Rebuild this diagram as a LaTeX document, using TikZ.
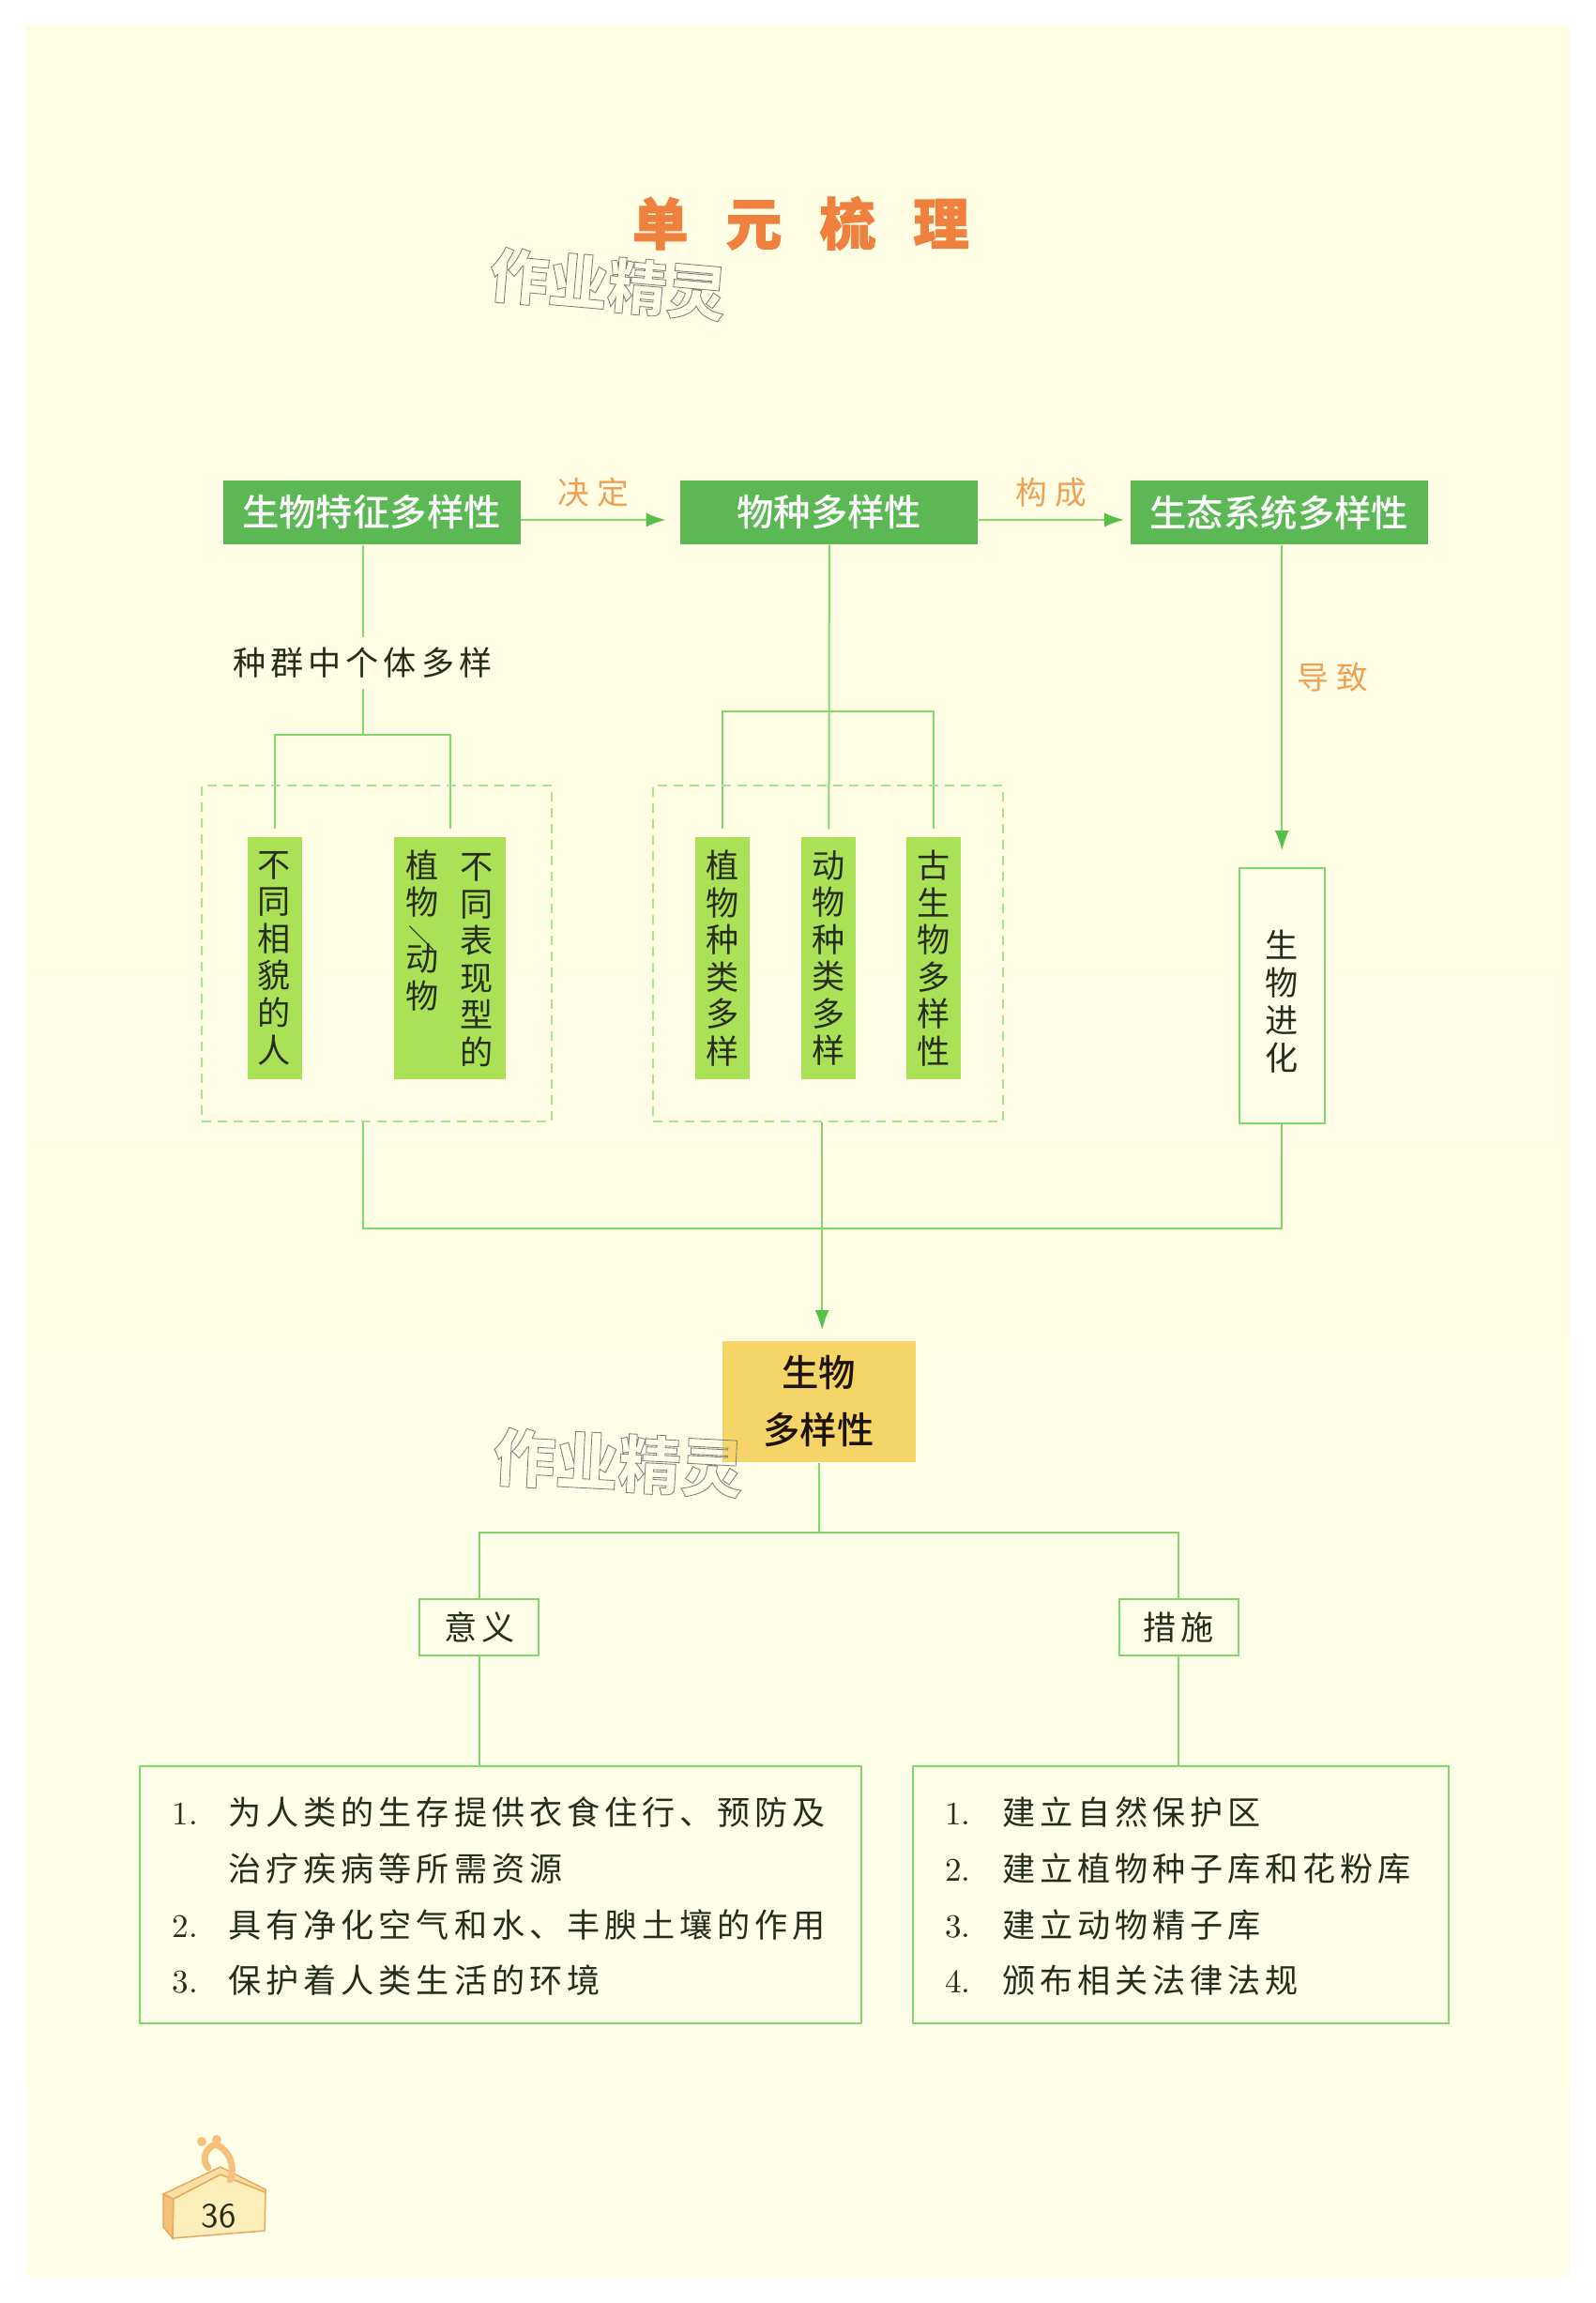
\documentclass[tikz,border=0pt]{standalone}
\usepackage{fontspec}
\usepackage{xcolor}
\usetikzlibrary{arrows.meta,positioning,fit,calc}
\newfontfamily\cjk{Noto Sans CJK SC}
\newfontfamily\cjkmed{Noto Sans CJK SC Medium}
\newfontfamily\cjkwide[LetterSpace=14]{Noto Sans CJK SC}
\newfontfamily\cjkair[LetterSpace=25]{Noto Sans CJK SC}
\newfontfamily\cjktitle[LetterSpace=67,FakeBold=1.5]{Noto Sans CJK SC Black}
\definecolor{paper}{RGB}{255,254,232}
\definecolor{papertop}{RGB}{255,253,226}
\definecolor{deepgreen}{RGB}{92,184,84}
\definecolor{leafgreen}{RGB}{170,225,86}
\definecolor{linegreen}{RGB}{126,217,109}
\definecolor{tipgreen}{RGB}{87,191,73}
\definecolor{softgreen}{RGB}{165,229,143}
\definecolor{softorange}{RGB}{238,160,84}
\definecolor{titleorange}{RGB}{240,128,62}
\definecolor{coreyellow}{RGB}{245,213,103}
\definecolor{inkdark}{RGB}{38,46,26}
\definecolor{tagface}{RGB}{251,238,184}
\definecolor{tagside}{RGB}{247,192,122}
\definecolor{tagedge}{RGB}{232,168,96}
\newcommand{\hollowtext}[1]{\special{pdf:code q 1 Tr 0.25 w 0.5 G}#1\special{pdf:code Q}}
\begin{document}
\begin{tikzpicture}[
 node distance=5mm and 5mm,
 every node/.style={align=center,text=inkdark},
 topbox/.style={fill=deepgreen,minimum width=31.7mm,minimum height=6.8mm,inner sep=0pt,text=white,font=\cjkmed\fontsize{11.2}{13}\selectfont},
 vtext/.style={inner sep=0pt,font=\cjk\fontsize{10}{11.25}\selectfont},
 leaf/.style={vtext,fill=leafgreen,minimum width=5.8mm,minimum height=25.8mm},
 group/.style={draw=softgreen,line width=0.2mm,dash pattern=on 1mm off 0.7mm,inner ysep=4.9mm},
 plainbox/.style={draw=linegreen,line width=0.2mm,fill=paper,font=\cjkwide\fontsize{10}{12}\selectfont,inner sep=0pt},
 listbox/.style={plainbox,minimum height=27.4mm,inner xsep=3.45mm,align=left,font=\cjkwide\fontsize{10}{17}\selectfont},
 orange/.style={text=softorange,inner sep=0pt,font=\cjkair\fontsize{9.6}{11}\selectfont},
 link/.style={linegreen,line width=0.2mm},
 flow/.style={link,-{Latex[length=2.1mm,width=1.5mm,color=tipgreen]}},
 hollow/.style={inner sep=0pt,font=\cjk\bfseries\fontsize{18}{20}\selectfont}
]
\useasboundingbox (0,0) rectangle (17.01,24.54);
\fill[white] (0,0) rectangle (17.01,24.54);
\shade[top color=papertop,bottom color=paper] (0.28,0.29) rectangle (16.73,24.26);
% title and marks
\node[inner sep=0pt,font=\cjktitle\fontsize{17}{19}\selectfont,text=titleorange] (title) at (8.535,22.16) {单元梳理};
\node[hollow,rotate=-5] (markt) at (6.48,21.51) {\hollowtext{作业精灵}};
% top row
\node[topbox] (bio) at (3.96,19.08) {生物特征多样性};
\node[topbox,right=16.95mm of bio] (species) {物种多样性};
\node[topbox,right=16.1mm of species] (eco) {生态系统多样性};
\draw[flow,shorten >=1.5mm] ([yshift=-0.8mm]bio.east) -- node[orange,above=1.3mm,xshift=-0.8mm]{决定} ([yshift=-0.8mm]species.west);
\draw[flow,shorten >=0.6mm] ([yshift=-0.8mm]species.east) -- node[orange,above=1.3mm,xshift=-0.3mm]{构成} ([yshift=-0.8mm]eco.west);
% left branch
\node[below=9.85mm of bio,xshift=-0.95mm,inner sep=0pt,minimum height=5.3mm,font=\cjkwide\fontsize{10}{12}\selectfont] (popu) {种群中个体多样};
\draw[link] (popu |- bio.south) -- (popu);
\coordinate[below=4.95mm of popu] (forka);
\draw[link] (popu) -- (forka);
\node[leaf] (leafa) at (2.925,14.33) {不\\同\\相\\貌\\的\\人};
\node[leaf,minimum width=11.9mm,right=9.75mm of leafa] (leafb) {};
\node[vtext] (typea) at ([xshift=2.85mm,yshift=-0.2mm]leafb.center) {不\\同\\表\\现\\型\\的};
\node[vtext,anchor=north] (typeb) at ([xshift=-3mm,yshift=-1.35mm]leafb.north) {植\\物\\[-1pt]{\fontsize{8}{8}\selectfont ＼}\\[-4.4pt]动\\物};
\draw[link,shorten >=0.8mm] (forka) -| (leafa.north);
\draw[link,shorten >=0.8mm] (forka) -| (leafb.north);
\node[group,fit=(leafa)(leafb),inner xsep=4.8mm,yshift=0.5mm] (groupa) {};
% middle branch
\node[leaf] (leafc) at (7.70,14.33) {植\\物\\种\\类\\多\\样};
\node[leaf,right=5.4mm of leafc] (leafd) {动\\物\\种\\类\\多\\样};
\node[leaf,right=5.25mm of leafd] (leafe) {古\\生\\物\\多\\样\\性};
\coordinate[below=17.75mm of species] (forkb);
\draw[link,shorten >=0.8mm] (species) -- (leafd.north);
\draw[link,shorten >=0.8mm] (forkb) -| (leafc.north);
\draw[link,shorten >=0.8mm] (forkb) -| (leafe.north);
\node[group,fit=(leafc)(leafe),inner xsep=4.42mm,xshift=-0.05mm,yshift=0.5mm] (groupb) {};
% right branch
\node[plainbox,minimum width=9.1mm,minimum height=27.2mm,below=34.35mm of eco,xshift=0.3mm] (evo) {};
\node[vtext,font=\cjk\fontsize{10}{11.4}\selectfont] (evotext) at ([yshift=-0.6mm]evo.center) {生\\物\\进\\化};
\draw[flow,shorten >=1.8mm] (evo.north |- eco.south) -- node[orange,right=1.5mm,pos=0.41]{导致} (evo.north);
% joining line
\coordinate[below=11.3mm of groupb.south,xshift=-0.6mm] (hub);
\draw[link] (popu |- groupa.south) |- (hub);
\draw[link] (evo) |- (hub);
\node[fill=coreyellow,minimum width=20.6mm,minimum height=12.9mm,inner sep=0pt,below=11.95mm of hub,xshift=-0.35mm,text=black!85!brown,font=\cjkmed\fontsize{11.2}{17.3}\selectfont] (core) {生物\\多样性};
\draw[link] (hub |- groupb.south) -- (hub);
\draw[flow,shorten >=1.1mm] (hub) -- (hub |- core.north);
\node[hollow,rotate=-3,font=\cjk\bfseries\fontsize{19}{21}\selectfont] (markb) at (6.59,8.95) {\hollowtext{作业精灵}};
% lower half
\coordinate[below=7.4mm of core] (forkc);
\draw[link] (core) -- (forkc);
\node[plainbox,minimum width=12.7mm,minimum height=6mm,below left=7.05mm and 29.75mm of forkc] (mean) {意义};
\node[plainbox,minimum width=12.7mm,minimum height=6mm,below right=7.05mm and 31.9mm of forkc] (act) {措施};
\draw[link] (forkc) -| (mean);
\draw[link] (forkc) -| (act);
\node[listbox,minimum width=76.9mm,text width=70mm,below=11.6mm of mean,xshift=2.3mm] (meanlist) {\begin{tabular}{@{}p{6mm}@{}l@{}}
\rule{0pt}{4.8mm}{\rmfamily 1.} & 为人类的生存提供衣食住行、预防及\\
 & 治疗疾病等所需资源\\
{\rmfamily 2.} & 具有净化空气和水、丰腴土壤的作用\\
{\rmfamily 3.} & 保护着人类生活的环境
\end{tabular}};
\node[listbox,minimum width=57.1mm,text width=50.2mm,below=11.6mm of act,xshift=0.2mm] (actlist) {\begin{tabular}{@{}p{6.1mm}@{}l@{}}
\rule{0pt}{4.8mm}{\rmfamily 1.} & 建立自然保护区\\
{\rmfamily 2.} & 建立植物种子库和花粉库\\
{\rmfamily 3.} & 建立动物精子库\\
{\rmfamily 4.} & 颁布相关法律法规
\end{tabular}};
\draw[link] (mean) -- (mean |- meanlist.north);
\draw[link] (act) -- (act |- actlist.north);
% page tag
\draw[tagedge,line width=0.15mm,fill=tagside] (1.74,1.16) -- (1.85,1.11) -- (1.84,0.69) -- (1.74,0.81) -- cycle;
\draw[tagedge,line width=0.15mm,fill=tagface] (1.85,1.11) -- (2.35,1.37) -- (2.83,1.18) -- (2.82,0.77) -- (1.84,0.69) -- cycle;
\draw[tagedge,line width=0.15mm,fill=tagface!70!tagside] (1.74,1.16) -- (2.35,1.45) -- (2.83,1.21) -- (2.83,1.18) -- (2.35,1.37) -- (1.85,1.11) -- cycle;
\draw[tagside,line width=0.7mm,line cap=round] (2.45,1.31) .. controls (2.52,1.47) and (2.42,1.66) .. (2.29,1.69) .. controls (2.18,1.64) and (2.15,1.52) .. (2.22,1.44);
\fill[tagside] (2.15,1.72) circle (0.05) (2.31,1.74) circle (0.05);
\node[inner sep=0pt,font=\sffamily\fontsize{10.5}{12}\selectfont] (pagenum) at (2.33,0.93) {36};
\end{tikzpicture}
\end{document}
